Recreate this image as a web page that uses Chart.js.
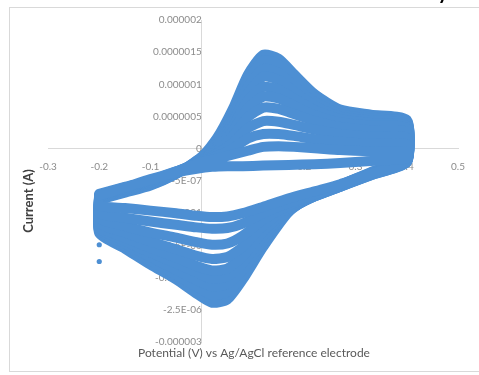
<!DOCTYPE html>
<html>
<head>
<meta charset="utf-8">
<script src="https://cdn.jsdelivr.net/npm/chart.js@4.4.1/dist/chart.umd.min.js"></script>
<style>
  html, body { margin: 0; padding: 0; background: #fff; }
  #wrap { width: 479px; height: 375px; }
</style>
</head>
<body>
<div id="wrap"><canvas id="cv" width="479" height="375"></canvas></div>
<script>
// potential grids (V) for the forward and the reverse sweep
const potentialFwd = [-0.2, -0.15, -0.1, -0.05, 0, 0.03, 0.06, 0.09, 0.12, 0.15, 0.18, 0.22, 0.27, 0.33, 0.4];
const potentialRev = [0.4, 0.33, 0.27, 0.22, 0.17, 0.12, 0.08, 0.05, 0.02, -0.01, -0.05, -0.1, -0.15, -0.2];

// current per scan, in microamps (smallest scan first)
const scan1Fwd  = [-0.70, -0.59, -0.48, -0.35, -0.21, -0.15, -0.09, -0.03, 0.03, 0.04, 0.03, 0.01, -0.02, -0.04, -0.05];
const scan1Rev  = [-0.15, -0.19, -0.22, -0.24, -0.25, -0.26, -0.27, -0.27, -0.28, -0.31, -0.37, -0.47, -0.60, -0.72];
const scan2Fwd  = [-0.71, -0.60, -0.49, -0.35, -0.20, -0.11, 0.00, 0.16, 0.23, 0.23, 0.20, 0.15, 0.11, 0.08, 0.07];
const scan2Rev  = [-0.20, -0.39, -0.55, -0.66, -0.77, -0.90, -1.00, -1.05, -1.06, -1.04, -1.00, -0.96, -0.92, -0.88];
const scan3Fwd  = [-0.72, -0.61, -0.50, -0.36, -0.19, -0.07, 0.09, 0.32, 0.43, 0.42, 0.37, 0.30, 0.23, 0.19, 0.17];
const scan3Rev  = [-0.21, -0.41, -0.58, -0.71, -0.84, -1.00, -1.16, -1.23, -1.24, -1.22, -1.18, -1.13, -1.07, -1.00];
const scan4Fwd  = [-0.73, -0.62, -0.51, -0.36, -0.18, -0.03, 0.19, 0.49, 0.64, 0.62, 0.54, 0.43, 0.34, 0.29, 0.26];
const scan4Rev  = [-0.21, -0.41, -0.59, -0.73, -0.88, -1.10, -1.35, -1.47, -1.49, -1.45, -1.38, -1.30, -1.20, -1.08];
const scan5Fwd  = [-0.74, -0.63, -0.52, -0.37, -0.17, 0.01, 0.27, 0.63, 0.81, 0.78, 0.67, 0.52, 0.41, 0.36, 0.32];
const scan5Rev  = [-0.20, -0.40, -0.59, -0.74, -0.91, -1.19, -1.52, -1.68, -1.71, -1.66, -1.56, -1.44, -1.30, -1.15];
const scan6Fwd  = [-0.75, -0.64, -0.53, -0.37, -0.16, 0.04, 0.34, 0.75, 0.96, 0.92, 0.78, 0.60, 0.46, 0.40, 0.35];
const scan6Rev  = [-0.19, -0.40, -0.59, -0.74, -0.93, -1.28, -1.67, -1.86, -1.89, -1.82, -1.69, -1.54, -1.38, -1.20];
const scan7Fwd  = [-0.76, -0.65, -0.54, -0.38, -0.15, 0.07, 0.41, 0.86, 1.12, 1.07, 0.89, 0.67, 0.50, 0.44, 0.38];
const scan7Rev  = [-0.18, -0.39, -0.58, -0.74, -0.95, -1.35, -1.78, -1.98, -2.02, -1.92, -1.78, -1.61, -1.43, -1.23];
const scan8Fwd  = [-0.77, -0.66, -0.55, -0.38, -0.14, 0.10, 0.47, 0.96, 1.24, 1.18, 0.98, 0.73, 0.54, 0.47, 0.41];
const scan8Rev  = [-0.16, -0.38, -0.57, -0.73, -0.96, -1.41, -1.88, -2.10, -2.14, -2.04, -1.88, -1.68, -1.47, -1.26];
const scan9Fwd  = [-0.78, -0.67, -0.56, -0.39, -0.13, 0.13, 0.54, 1.06, 1.37, 1.31, 1.08, 0.80, 0.58, 0.50, 0.43];
const scan9Rev  = [-0.14, -0.37, -0.56, -0.72, -0.97, -1.46, -1.96, -2.22, -2.27, -2.14, -1.96, -1.74, -1.51, -1.28];
const scan10Fwd = [-0.79, -0.68, -0.57, -0.39, -0.12, 0.17, 0.61, 1.15, 1.46, 1.40, 1.16, 0.85, 0.61, 0.53, 0.45];
const scan10Rev = [-0.12, -0.36, -0.56, -0.71, -0.98, -1.52, -2.03, -2.34, -2.39, -2.25, -2.03, -1.80, -1.55, -1.31];

// two stray points at the left vertex
const strayPotential = [-0.2, -0.2];
const strayCurrent = [-1.49, -1.75];

// axis ticks, as printed
const xTickValues = [-0.3, -0.2, -0.1, 0, 0.1, 0.2, 0.3, 0.4, 0.5];
const xTickLabels = ['-0.3', '-0.2', '-0.1', '0', '0.1', '0.2', '0.3', '0.4', '0.5'];
const yTickValues = [-3e-6, -2.5e-6, -2e-6, -1.5e-6, -1e-6, -5e-7, 0, 5e-7, 1e-6, 1.5e-6, 2e-6];
const yTickLabels = ['-0.000003', '-2.5E-06', '-0.000002', '-1.5E-06', '-0.000001', '-5E-07', '0',
                     '0.0000005', '0.000001', '0.0000015', '0.000002'];

const BLUE = '#4d8fd3';
const UA = 1e-6;

const scans = [
  [scan1Fwd, scan1Rev], [scan2Fwd, scan2Rev], [scan3Fwd, scan3Rev], [scan4Fwd, scan4Rev],
  [scan5Fwd, scan5Rev], [scan6Fwd, scan6Rev], [scan7Fwd, scan7Rev], [scan8Fwd, scan8Rev],
  [scan9Fwd, scan9Rev], [scan10Fwd, scan10Rev]
];

function scanPoints(fwd, rev) {
  const pts = [];
  potentialFwd.forEach((x, i) => pts.push({ x: x, y: fwd[i] * UA }));
  potentialRev.forEach((x, i) => pts.push({ x: x, y: rev[i] * UA }));
  pts.push(pts[0]); // close the loop at the left vertex
  return pts;
}

const datasets = scans.map(([fwd, rev], i) => ({
  label: 'Scan ' + (i + 1),
  data: scanPoints(fwd, rev),
  showLine: true,
  borderColor: BLUE,
  borderWidth: 10,
  borderJoinStyle: 'round',
  borderCapStyle: 'round',
  tension: 0.22,
  pointRadius: 0,
  fill: false
}));

datasets.push({
  label: 'Stray',
  data: strayPotential.map((x, i) => ({ x: x, y: strayCurrent[i] * UA })),
  showLine: false,
  pointRadius: 2.6,
  pointBackgroundColor: BLUE,
  pointBorderWidth: 0
});

// frame, axis titles and the clipped chart title
const decorations = {
  id: 'decorations',
  afterDraw(chart) {
    const ctx = chart.ctx;
    ctx.save();
    ctx.strokeStyle = '#d9d9d9';
    ctx.lineWidth = 1;
    ctx.strokeRect(9.5, 7.5, 480, 364);

    ctx.fillStyle = '#404040';
    ctx.font = 'bold 13px Lato';
    ctx.textAlign = 'center';
    ctx.textBaseline = 'middle';
    ctx.translate(29, 201);
    ctx.rotate(-Math.PI / 2);
    ctx.fillText('Current (A)', 0, 0);
    ctx.restore();

    ctx.save();
    ctx.fillStyle = '#595959';
    ctx.font = '12px Lato';
    ctx.textAlign = 'center';
    ctx.textBaseline = 'middle';
    ctx.fillText('Potential (V) vs Ag/AgCl reference electrode', 254, 353);

    ctx.fillStyle = '#000';
    ctx.font = 'bold 20px Lato';
    ctx.textAlign = 'center';
    ctx.textBaseline = 'alphabetic';
    ctx.fillText('y', 443, -1);
    ctx.restore();
  }
};

const tickFont = { family: 'Lato', size: 10 };

new Chart(document.getElementById('cv'), {
  type: 'scatter',
  data: { datasets: datasets },
  options: {
    responsive: false,
    animation: false,
    layout: { padding: { left: 48, right: 21, top: 20, bottom: 33 } },
    plugins: {
      legend: { display: false },
      tooltip: { enabled: false }
    },
    scales: {
      x: {
        type: 'linear',
        position: { y: 0 },
        min: -0.3,
        max: 0.5,
        afterBuildTicks: (s) => { s.ticks = xTickValues.map(v => ({ value: v })); },
        ticks: {
          color: '#8c8c8c',
          font: tickFont,
          padding: 4,
          maxRotation: 0,
          autoSkip: false,
          callback: (v, i) => xTickLabels[i]
        },
        grid: { display: false },
        border: { display: true, color: '#d9d9d9', width: 1 }
      },
      y: {
        type: 'linear',
        position: { x: 0 },
        min: -3e-6,
        max: 2e-6,
        afterBuildTicks: (s) => { s.ticks = yTickValues.map(v => ({ value: v })); },
        ticks: {
          color: '#8c8c8c',
          font: tickFont,
          padding: 9,
          autoSkip: false,
          callback: (v, i) => yTickLabels[i]
        },
        grid: { display: false },
        border: { display: true, color: '#d9d9d9', width: 1 }
      }
    }
  },
  plugins: [decorations]
});
</script>
</body>
</html>
